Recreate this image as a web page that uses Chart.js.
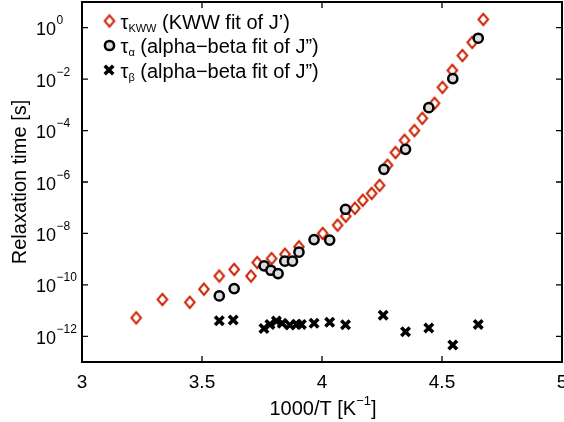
<!DOCTYPE html>
<html>
<head>
<meta charset="utf-8">
<script src="https://cdn.jsdelivr.net/npm/chart.js@4.4.1/dist/chart.umd.min.js"></script>
<style>
  html, body { margin: 0; padding: 0; background: #fff; }
  canvas { display: block; }
</style>
</head>
<body>
<canvas id="tauChart" width="564" height="422"></canvas>
<script>
// -------------------------------
// Data
// -------------------------------
// tau_KWW from the KWW fit of J'
const kwwX = [3.226, 3.335, 3.449, 3.508, 3.572, 3.634, 3.704, 3.730, 3.790, 3.846, 3.904,
              4.003, 4.065, 4.099, 4.137, 4.170, 4.207, 4.240, 4.273, 4.306, 4.344, 4.385,
              4.418, 4.469, 4.502, 4.543, 4.585, 4.626, 4.672];
const kwwTau = [5.2e-12, 2.7e-11, 2.1e-11, 6.8e-11, 2.2e-10, 4.0e-10, 2.2e-10, 7.4e-10, 1.05e-9, 1.55e-9, 3.0e-9,
                1.0e-8, 2.1e-8, 4.7e-8, 9.5e-8, 1.95e-7, 3.6e-7, 7.4e-7, 4.5e-6, 1.4e-5, 4.2e-5, 1.0e-4,
                3.0e-4, 1.15e-3, 4.8e-3, 0.022, 0.083, 0.27, 2.1];

// tau_alpha from the alpha-beta fit of J''
const alphaX = [3.572, 3.634, 3.759, 3.787, 3.817, 3.845, 3.877, 3.904, 3.967, 4.032, 4.098,
                4.258, 4.348, 4.445, 4.545, 4.651];
const alphaTau = [3.7e-11, 7.2e-11, 5.5e-10, 3.7e-10, 2.75e-10, 8.3e-10, 8.3e-10, 1.86e-9, 5.75e-9, 5.5e-9, 8.7e-8,
                  3.1e-6, 1.86e-5, 7.8e-4, 0.0105, 0.39];

// tau_beta from the alpha-beta fit of J''
const betaX = [3.572, 3.630, 3.758, 3.783, 3.810, 3.834, 3.866, 3.894, 3.914, 3.967, 4.032, 4.098,
               4.255, 4.348, 4.445, 4.545, 4.651];
const betaTau = [4.0e-12, 4.3e-12, 2.0e-12, 2.9e-12, 3.9e-12, 3.2e-12, 2.75e-12, 2.95e-12, 2.9e-12, 3.2e-12, 3.5e-12, 2.8e-12,
                 6.6e-12, 1.5e-12, 2.1e-12, 4.6e-13, 2.9e-12];

// axis ticks / labels
const xTicks = [3, 3.5, 4, 4.5, 5];
const xTickLabels = ["3", "3.5", "4", "4.5", "5"];
const yTickExps = [0, -2, -4, -6, -8, -10, -12];
const legendSubs = ["KWW", "\u03b1", "\u03b2"];
const legendRest = [" (KWW fit of J\u2019)", " (alpha\u2212beta fit of J\u201d)", " (alpha\u2212beta fit of J\u201d)"];

const RED = "#cc2200";
const FONT = '"Liberation Sans", Arial, sans-serif';

// -------------------------------
// Helpers
// -------------------------------
const toPoints = (xs, ys) => xs.map((x, i) => ({ x: x, y: ys[i] }));

function makeDiamond(color) {
    const c = document.createElement("canvas");
    c.width = 14; c.height = 17;
    const g = c.getContext("2d");
    g.strokeStyle = color;
    g.lineWidth = 2;
    g.beginPath();
    g.moveTo(7, 2.8);
    g.lineTo(11.8, 8.5);
    g.lineTo(7, 14.2);
    g.lineTo(2.2, 8.5);
    g.closePath();
    g.stroke();
    return c;
}
const diamond = makeDiamond(RED);

function drawCircleMark(ctx, x, y) {
    ctx.beginPath();
    ctx.arc(x, y, 4.6, 0, Math.PI * 2);
    ctx.fillStyle = "#dcdcdc";
    ctx.fill();
    ctx.lineWidth = 2.5;
    ctx.strokeStyle = "#000";
    ctx.stroke();
}

function drawXMark(ctx, x, y) {
    const d = 6 * Math.SQRT1_2;
    ctx.beginPath();
    ctx.moveTo(x - d, y - d); ctx.lineTo(x + d, y + d);
    ctx.moveTo(x + d, y - d); ctx.lineTo(x - d, y + d);
    ctx.lineWidth = 3.6;
    ctx.strokeStyle = "#000";
    ctx.stroke();
}

// -------------------------------
// Frame, ticks, labels, legend
// -------------------------------
const frameAndLabels = {
    id: "frameAndLabels",
    afterDraw(chart) {
        const { ctx, chartArea: a } = chart;
        const xs = chart.scales.x, ys = chart.scales.y;
        ctx.save();

        // inward ticks on all four sides
        ctx.strokeStyle = "#000";
        ctx.lineWidth = 1.3;
        ctx.beginPath();
        xTicks.forEach(v => {
            const px = xs.getPixelForValue(v);
            ctx.moveTo(px, a.bottom); ctx.lineTo(px, a.bottom - 6);
            ctx.moveTo(px, a.top); ctx.lineTo(px, a.top + 6);
        });
        yTickExps.forEach(e => {
            const py = ys.getPixelForValue(Math.pow(10, e));
            ctx.moveTo(a.left, py); ctx.lineTo(a.left + 6, py);
            ctx.moveTo(a.right, py); ctx.lineTo(a.right - 6, py);
        });
        ctx.stroke();

        // box
        ctx.lineWidth = 2;
        ctx.strokeRect(a.left, a.top, a.right - a.left, a.bottom - a.top);

        // x tick labels
        ctx.fillStyle = "#000";
        ctx.font = "19px " + FONT;
        ctx.textAlign = "center";
        ctx.textBaseline = "alphabetic";
        xTicks.forEach((v, i) => {
            ctx.fillText(xTickLabels[i], xs.getPixelForValue(v), 388);
        });

        // y tick labels 10^n
        yTickExps.forEach(e => {
            const py = ys.getPixelForValue(Math.pow(10, e));
            ctx.font = "18px " + FONT;
            ctx.textAlign = "right";
            ctx.fillText("10", 56, py + 7.5);
            ctx.font = "12px " + FONT;
            ctx.textAlign = "left";
            ctx.fillText(e < 0 ? "\u2212" + (-e) : String(e), 56.5, py - 3.5);
        });

        // x axis title
        const t1 = "1000/T [K", t2 = "\u22121", t3 = "]";
        ctx.font = "20px " + FONT;
        const w1 = ctx.measureText(t1).width, w3 = ctx.measureText(t3).width;
        ctx.font = "13px " + FONT;
        const w2 = ctx.measureText(t2).width;
        const sx = 323 - (w1 + w2 + w3) / 2;
        ctx.textAlign = "left";
        ctx.font = "20px " + FONT;
        ctx.fillText(t1, sx, 415);
        ctx.font = "13px " + FONT;
        ctx.fillText(t2, sx + w1, 405);
        ctx.font = "20px " + FONT;
        ctx.fillText(t3, sx + w1 + w2, 415);

        // y axis title
        ctx.save();
        ctx.translate(26, (a.top + a.bottom) / 2);
        ctx.rotate(-Math.PI / 2);
        ctx.textAlign = "center";
        ctx.font = "20px " + FONT;
        ctx.fillText("Relaxation time [s]", 0, 0);
        ctx.restore();

        // legend
        const rowY = [21, 45.5, 70];
        ctx.drawImage(diamond, 109.5 - diamond.width / 2, rowY[0] - diamond.height / 2);
        drawCircleMark(ctx, 109.5, rowY[1]);
        drawXMark(ctx, 109, rowY[2]);
        ctx.fillStyle = "#000";
        ctx.textAlign = "left";
        legendSubs.forEach((sub, i) => {
            const base = rowY[i] + 7.5;
            let lx = 120.5;
            ctx.font = "20px " + FONT;
            ctx.fillText("\u03c4", lx, base);
            lx += ctx.measureText("\u03c4").width;
            ctx.font = "11px " + FONT;
            ctx.fillText(sub, lx, base + 3);
            lx += ctx.measureText(sub).width;
            ctx.font = "20px " + FONT;
            ctx.fillText(legendRest[i], lx, base);
        });

        ctx.restore();
    }
};

// -------------------------------
// Chart.js Setup
// -------------------------------
const ctx = document.getElementById("tauChart").getContext("2d");
const tauChart = new Chart(ctx, {
    type: "scatter",
    data: {
        datasets: [
            {
                label: "tau_KWW (KWW fit of J')",
                data: toPoints(kwwX, kwwTau),
                pointStyle: diamond,
                order: 3
            },
            {
                label: "tau_alpha (alpha-beta fit of J'')",
                data: toPoints(alphaX, alphaTau),
                pointStyle: "circle",
                pointRadius: 4.6,
                backgroundColor: "#dcdcdc",
                borderColor: "#000",
                borderWidth: 2.5,
                order: 2
            },
            {
                label: "tau_beta (alpha-beta fit of J'')",
                data: toPoints(betaX, betaTau),
                pointStyle: "crossRot",
                pointRadius: 6,
                borderColor: "#000",
                borderWidth: 3.6,
                order: 1
            }
        ]
    },
    options: {
        responsive: false,
        animation: false,
        devicePixelRatio: 1,
        events: [],
        layout: { autoPadding: false, padding: { left: 82, top: 2, right: 2, bottom: 60 } },
        plugins: {
            legend: { display: false },
            tooltip: { enabled: false }
        },
        scales: {
            x: { type: "linear", min: 3, max: 5, display: false },
            y: { type: "logarithmic", min: 1e-13, max: 10, display: false }
        }
    },
    plugins: [frameAndLabels]
});
</script>
</body>
</html>
